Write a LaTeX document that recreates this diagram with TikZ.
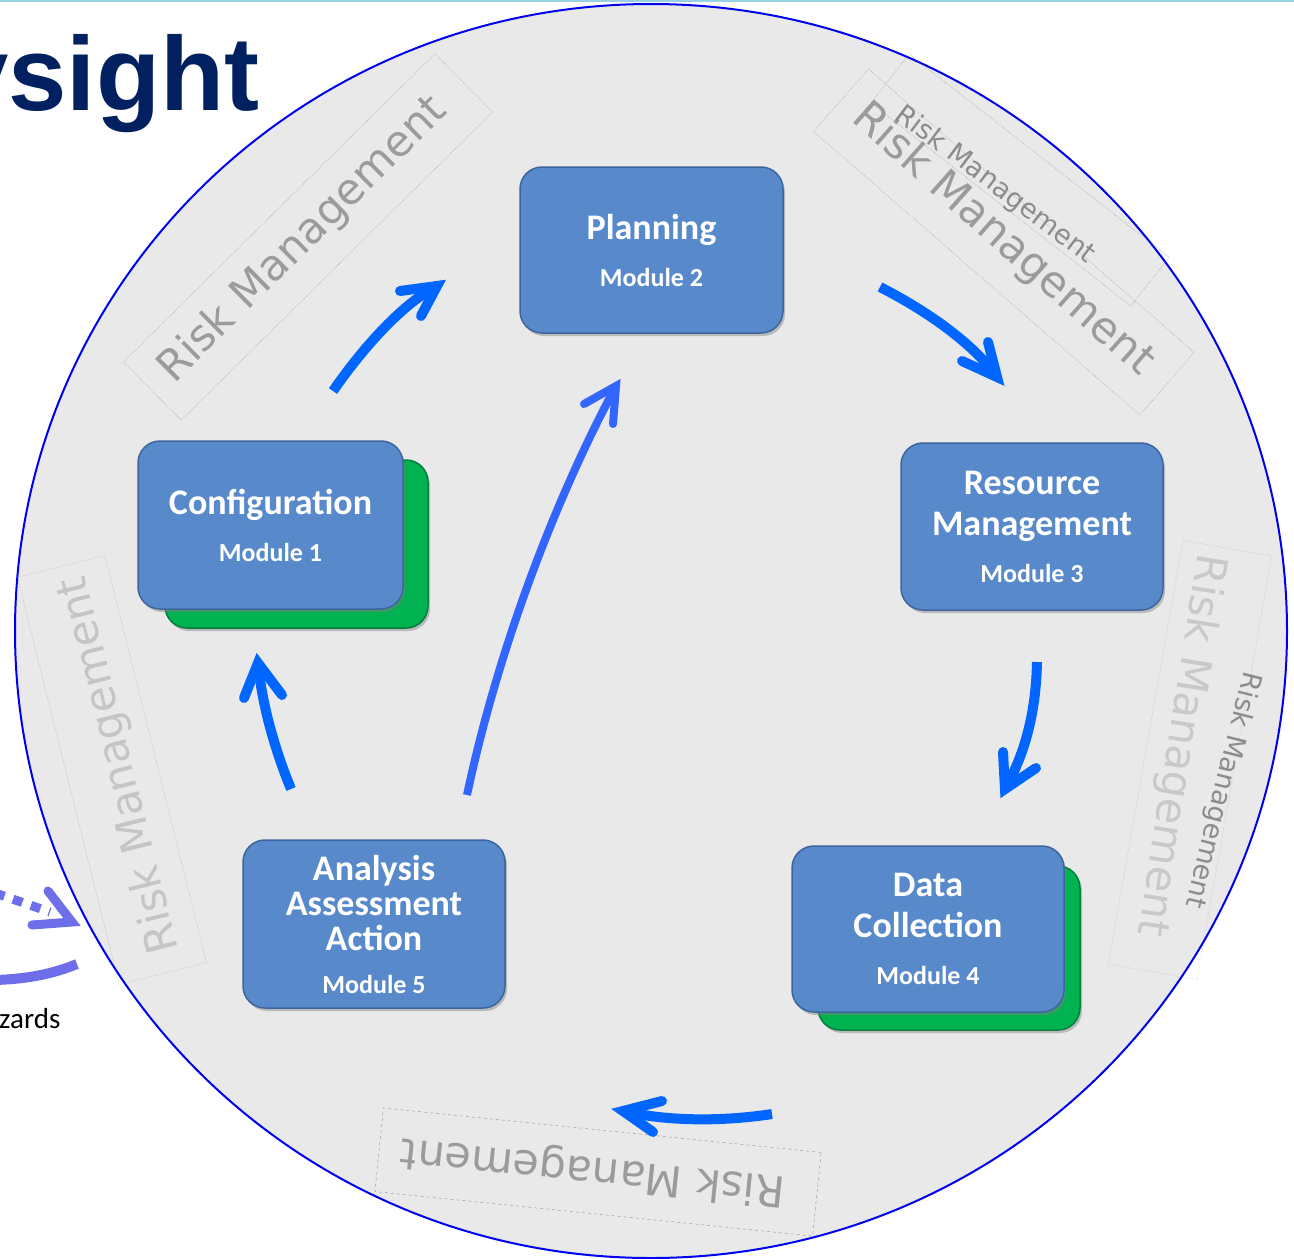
\documentclass[tikz,border=0pt]{standalone}
\usepackage{fontspec}
\setmainfont{Carlito}
\newfontfamily\titlefont{Liberation Sans}
\newfontfamily\wmfont{DejaVu Sans}
\usetikzlibrary{shadows}
\definecolor{boxblue}{RGB}{88,138,203}
\definecolor{boxedge}{RGB}{62,100,158}
\definecolor{boxgreen}{RGB}{0,178,80}
\definecolor{greenedge}{RGB}{0,128,58}
\definecolor{arrowblue}{RGB}{0,102,255}
\definecolor{longblue}{RGB}{51,102,255}
\definecolor{circlefill}{RGB}{233,233,233}
\definecolor{circleedge}{RGB}{0,0,240}
\definecolor{titleblue}{RGB}{0,32,96}
\definecolor{wmgray}{RGB}{130,130,130}
\definecolor{swooshblue}{RGB}{110,110,235}
\definecolor{topline}{RGB}{150,210,225}
\begin{document}
\begin{tikzpicture}[x=1pt,y=-1pt,
  module/.style={draw=boxedge, line width=1.5pt, fill=boxblue, rounded corners=22pt,
    text=white, align=center, inner sep=0pt,
    font=\bfseries\fontsize{36}{41}\selectfont,
    drop shadow={shadow xshift=2pt,shadow yshift=-3pt,opacity=0.45}},
  backbox/.style={draw=greenedge, line width=1.5pt, fill=boxgreen, rounded corners=22pt,
    inner sep=0pt,
    drop shadow={shadow xshift=2pt,shadow yshift=-3pt,opacity=0.45}},
  flow/.style={draw=arrowblue, line width=10pt},
  flowtip/.style={draw=arrowblue, line width=10pt, line cap=round, line join=miter},
  longflow/.style={draw=longblue, line width=8pt},
  longtip/.style={draw=longblue, line width=8pt, line cap=round, line join=miter},
  wm/.style={text=wmgray, opacity=0.75, inner sep=0pt, font=\wmfont\fontsize{43}{43}\selectfont},
  wmsmall/.style={text=wmgray, opacity=0.9, inner sep=0pt, font=\wmfont\fontsize{27}{27}\selectfont},
  wmbox/.style={draw=gray, densely dotted, line width=0.5pt, opacity=0.7, inner sep=0pt},
  swoosh/.style={draw=swooshblue, line width=9pt}
]
\useasboundingbox (0,0) rectangle (1294,1259);
\clip (0,0) rectangle (1294,1259);

% top rule
\draw[topline, line width=2pt] (0,1) -- (1294,1);

% title fragment
\node[anchor=base west, inner sep=0pt, text=titleblue,
  font=\titlefont\bfseries\fontsize{105}{105}\selectfont] (title) at (-50,110) {ysight};

% big circle
\draw[circleedge, fill=circlefill, line width=2pt] (651,631) ellipse [x radius=636pt, y radius=627pt];

% watermarks
\node[wmbox, rotate=44.7, minimum width=438pt, minimum height=82pt] (wb1) at (308,237) {};
\node[wm, rotate=44.7] (wm1) at (303,240) {Risk Management};

\node[wmbox, rotate=-41, minimum width=432pt, minimum height=83pt] (wb2) at (1004,242) {};
\node[wm, rotate=-41.5] (wm2) at (1003,240) {Risk Management};
\node[wmbox, rotate=-38, minimum width=330pt, minimum height=62pt] (wb3) at (1020,180) {};
\node[wmsmall, rotate=-37] (wm3) at (995,185) {Risk Management};

\node[wmbox, rotate=-100, minimum width=430pt, minimum height=90pt, opacity=0.4] (wb4) at (1190,760) {};
\node[wm, opacity=0.3, rotate=-99] (wm4) at (1180,745) {Risk Management};
\node[wmsmall, rotate=-104] (wm5) at (1222,790) {Risk Management};

\node[wmbox, dashed, rotate=-5.8, minimum width=440pt, minimum height=84pt] (wb6) at (598,1172) {};
\node[wm, rotate=174.2] (wm6) at (593,1170) {Risk Management};

\node[wmbox, rotate=-76, minimum width=420pt, minimum height=90pt, opacity=0.5] (wb7) at (112,770) {};
\node[wm, opacity=0.35, rotate=104] (wm7) at (120,765) {Risk Management};

% green back boxes
\node[backbox, minimum width=263pt, minimum height=168pt] (g1) at (296.5,544) {};
\node[backbox, minimum width=262pt, minimum height=164pt] (g4) at (949,948) {};

% module boxes
\node[module, minimum width=263pt, minimum height=166pt] (m2) at (651.5,250)
  {Planning\\[6pt]{\fontsize{26}{30}\selectfont Module 2}};
\node[module, minimum width=265pt, minimum height=168pt] (m1) at (270.5,525)
  {Configuration\\[6pt]{\fontsize{26}{30}\selectfont Module 1}};
\node[module, minimum width=262pt, minimum height=167pt] (m3) at (1032,526.5)
  {Resource\\Management\\[6pt]{\fontsize{26}{30}\selectfont Module 3}};
\node[module, minimum width=272pt, minimum height=166pt] (m4) at (928,929)
  {Data\\Collection\\[6pt]{\fontsize{26}{30}\selectfont Module 4}};
\node[module, minimum width=262pt, minimum height=168pt] (m5) at (374,924)
  {Analysis\\[-6pt]Assessment\\[-6pt]Action\\[2pt]{\fontsize{26}{30}\selectfont Module 5}};

% arrows
\coordinate (a1s) at (333,391); \coordinate (a1e) at (437,286);
\draw[flow] (a1s) .. controls (360,352) and (400,305) .. (a1e);
\draw[flowtip] (400,291) -- (a1e) -- (421,316);

\coordinate (a2s) at (880,287); \coordinate (a2e) at (997,377);
\draw[flow] (a2s) .. controls (925,310) and (972,342) .. (a2e);
\draw[flowtip] (962,361) -- (a2e) -- (988,342);

\coordinate (a3s) at (1037,662); \coordinate (a3e) at (1005,789);
\draw[flow] (a3s) .. controls (1036,710) and (1026,752) .. (a3e);
\draw[flowtip] (1003,752) -- (a3e) -- (1036,768);

\coordinate (a4s) at (772,1114); \coordinate (a4e) at (623,1111);
\draw[flow] (a4s) .. controls (720,1122) and (665,1121) .. (a4e);
\draw[flowtip] (662,1101) -- (a4e) -- (653,1132);

\coordinate (a5s) at (291,789); \coordinate (a5e) at (258,663);
\draw[flow] (a5s) .. controls (275,750) and (262,705) .. (a5e);
\draw[flowtip] (244,698) -- (a5e) -- (282,695);

\coordinate (a6s) at (467,795); \coordinate (a6e) at (616,386);
\draw[longflow] (a6s) .. controls (500,640) and (560,490) .. (a6e);
\draw[longtip] (584,404) -- (a6e) -- (613,424);

% outside swoosh
\coordinate (s1) at (-5,893); \coordinate (s2) at (50,912);
\draw[swoosh, dash pattern=on 10pt off 9pt] (s1) -- (s2);
\coordinate (s3) at (72,922);
\draw[swoosh, line cap=round, line join=miter] (48,891) -- (s3) -- (32,925);
\coordinate (s4) at (-5,980); \coordinate (s5) at (77,964);
\draw[swoosh, line width=10pt] (s4) .. controls (30,979) and (55,973) .. (s5);

\node[anchor=base west, inner sep=0pt, font=\fontsize{29}{29}\selectfont] (zards) at (-1,1028) {zards};
\end{tikzpicture}
\end{document}
